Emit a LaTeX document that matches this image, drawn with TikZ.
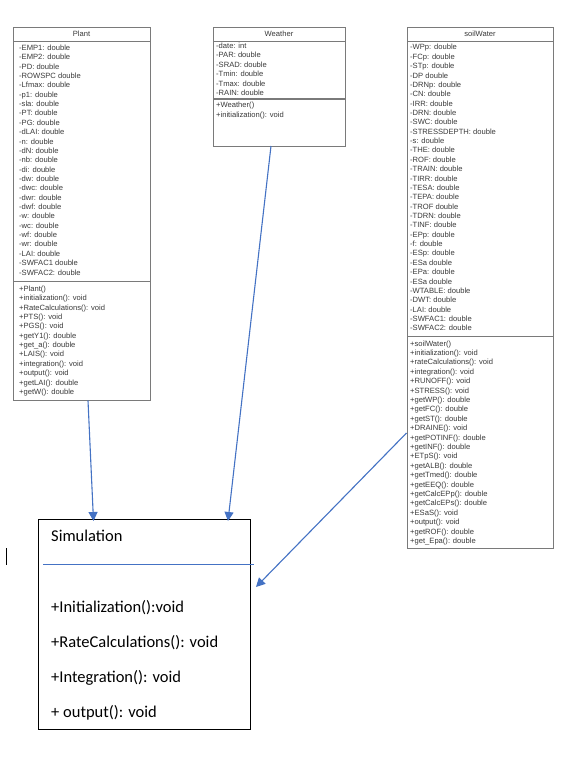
\documentclass[tikz,border=0pt]{standalone}
\usepackage{fontspec}
\setmainfont{Liberation Sans}
\newfontfamily\calibrifont{Carlito}
\usetikzlibrary{arrows.meta}
\definecolor{umlgray}{HTML}{7A7A7A}
\definecolor{umltext}{HTML}{3A3A3A}
\definecolor{arrblue}{HTML}{4472C4}
\tikzset{
  umlbox/.style={draw=umlgray, line width=0.9pt, anchor=north west, inner sep=0pt, fill=white},
  divider/.style={draw=umlgray, line width=0.9pt},
  member/.style={anchor=base west, inner sep=0pt, font=\fontsize{7.6}{9}\selectfont, text=umltext},
  title/.style={anchor=base, inner sep=0pt, font=\fontsize{7.6}{9}\selectfont, text=umltext},
  simbox/.style={draw=black, line width=1pt, anchor=north west, inner sep=0pt},
  simtext/.style={anchor=base west, inner sep=0pt, font=\calibrifont\fontsize{16.5}{19}\selectfont, text=black},
  arr/.style={draw=arrblue, line width=1.1pt, -{Triangle[length=9pt,width=9pt]}},
}
\begin{document}
\begin{tikzpicture}[x=1pt,y=-1pt]
\useasboundingbox (0,0) rectangle (586,776);
\fill[white] (0,0) rectangle (586,776);

% ---------- Plant ----------
\node[umlbox, minimum width=137pt, minimum height=373pt] (plant) at (13,27) {};
\draw[divider] (13,41) -- (150,41);
\draw[divider] (13,281) -- (150,281);
\node[title] (plantT) at (81.5,36.7) {Plant};
\foreach \t [count=\i from 0] in {-EMP1: double,-EMP2: double,-PD: double,-ROWSPC double,-Lfmax: double,-p1: double,-sla: double,-PT: double,-PG: double,-dLAI: double,-n: double,-dN: double,-nb: double,-di: double,-dw: double,-dwc: double,-dwr: double,-dwf: double,-w: double,-wc: double,-wf: double,-wr: double,-LAI: double,-SWFAC1 double,-SWFAC2: double}
  \node[member] (pa\i) at (19,{47.7+2.7+\i*9.36}) {\t};
\foreach \t [count=\i from 0] in {+Plant(),+initialization(): void,+RateCalculations(): void,+PTS(): void,+PGS(): void,+getY1(): double,+get\_a(): double,+LAIS(): void,+integration(): void,+output(): void,+getLAI(): double,+getW(): double}
  \node[member] (pm\i) at (19,{288.7+2.7+\i*9.36}) {\t};

% ---------- Weather ----------
\node[umlbox, minimum width=132pt, minimum height=119pt] (weather) at (213,27) {};
\draw[divider] (213,41) -- (345,41);
\draw[divider, line width=1.4pt] (213,99) -- (345,99);
\node[title] (weatherT) at (279,36.7) {Weather};
\foreach \t [count=\i from 0] in {-date: int,-PAR: double,-SRAD: double,-Tmin: double,-Tmax: double,-RAIN: double}
  \node[member] (wa\i) at (216,{45.7+2.7+\i*9.5}) {\t};
\foreach \t [count=\i from 0] in {+Weather(),+initialization(): void}
  \node[member] (wm\i) at (216,{105+2.7+\i*9.5}) {\t};

% ---------- soilWater ----------
\node[umlbox, minimum width=146pt, minimum height=521pt] (soil) at (407,27) {};
\draw[divider] (407,41) -- (553,41);
\draw[divider] (407,336) -- (553,336);
\node[title] (soilT) at (480,36.7) {soilWater};
\foreach \t [count=\i from 0] in {-WPp: double,-FCp: double,-STp: double,-DP double,-DRNp: double,-CN: double,-IRR: double,-DRN: double,-SWC: double,-STRESSDEPTH: double,-s: double,-THE: double,-ROF: double,-TRAIN: double,-TIRR: double,-TESA: double,-TEPA: double,-TROF double,-TDRN: double,-TINF: double,-EPp: double,-f: double,-ESp: double,-ESa double,-EPa: double,-ESa double,-WTABLE: double,-DWT: double,-LAI: double,-SWFAC1: double,-SWFAC2: double}
  \node[member] (sa\i) at (410,{47.3+2.7+\i*9.36}) {\t};
\foreach \t [count=\i from 0] in {+soilWater(),+initialization(): void,+rateCalculations(): void,+integration(): void,+RUNOFF(): void,+STRESS(): void,+getWP(): double,+getFC(): double,+getST(): double,+DRAINE(): void,+getPOTINF(): double,+getINF(): double,+ETpS(): void,+getALB(): double,+getTmed(): double,+getEEQ(): double,+getCalcEPp(): double,+getCalcEPs(): double,+ESaS(): void,+output(): void,+getROF(): double,+get\_Epa(): double}
  \node[member] (sm\i) at (410,{343.3+2.7+\i*9.4}) {\t};

% ---------- Simulation ----------
\node[simbox, minimum width=212pt, minimum height=210pt] (sim) at (38,519) {};
\draw[draw=arrblue, line width=0.9pt] (43,564) -- (254,564);
\node[simtext] (simT) at (51,541.7) {Simulation};
\node[simtext] (sm1) at (51,612.7) {+Initialization():void};
\node[simtext] (sm2) at (51,647.7) {+RateCalculations(): void};
\node[simtext] (sm3) at (51,682.7) {+Integration(): void};
\node[simtext] (sm4) at (51,717.5) {+ output(): void};

% cursor mark
\draw[black, line width=1pt] (6.5,548) -- (6.5,565);

% ---------- connectors ----------
\coordinate (pOut) at (88,400.5);
\coordinate (wOut) at (271,146);
\coordinate (sOut) at (406.5,433);
\coordinate (simIn1) at (93.5,521);
\coordinate (simIn2) at (228,521);
\coordinate (simIn3) at (256,587);
\draw[arr] (pOut) -- (simIn1);
\draw[arr] (wOut) -- (simIn2);
\draw[arr] (sOut) -- (simIn3);
\end{tikzpicture}
\end{document}
